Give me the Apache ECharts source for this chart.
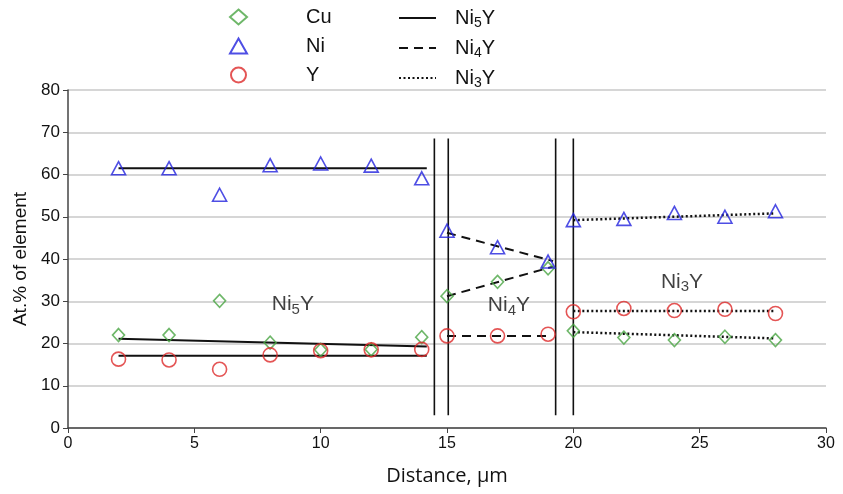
<!DOCTYPE html>
<html><head><meta charset="utf-8">
<script src="https://cdn.jsdelivr.net/npm/echarts@6/dist/echarts.min.js"></script>
<style>html,body{margin:0;padding:0;background:#fff}#c{width:843px;height:494px}</style>
</head><body><div id="c"></div>
<script>
// ---- data ----
const xNi5 = [2, 4, 6, 8, 10, 12, 14];
const xNi4 = [15, 17, 19];
const xNi3 = [20, 22, 24, 26, 28];
const cuVals = [22.0, 22.0, 30.1, 20.2, 18.5, 18.6, 21.5, 31.2, 34.6, 37.8, 23.0, 21.4, 20.8, 21.6, 20.8];
const niVals = [61.5, 61.5, 55.2, 62.2, 62.6, 62.1, 59.1, 46.7, 42.8, 39.4, 49.2, 49.5, 50.9, 50.0, 51.3];
const yVals  = [16.3, 16.1, 13.9, 17.3, 18.3, 18.5, 18.6, 21.8, 21.8, 22.2, 27.5, 28.3, 27.8, 28.1, 27.1];
const xAll = xNi5.concat(xNi4, xNi3);
// fitted lines [x1,y1,x2,y2]
const fitNi5 = [[2, 61.5, 14.2, 61.5], [2, 21.1, 14.2, 19.3], [2, 17.1, 14.2, 17.1]];
const fitNi4 = [[15, 46.2, 19.2, 39.5], [15, 31.2, 19.2, 38.2], [15, 21.8, 19.0, 21.8]];
const fitNi3 = [[20, 49.2, 28, 50.8], [20, 27.7, 28, 27.7], [20, 22.7, 28, 21.2]];
// phase boundaries
const boundaries = [14.5, 15.05, 19.3, 20.0];
const boundaryRange = [3, 68.5];
// phase labels [x, y, sub]
const phaseLabels = [[8.9, 29.2, '5'], [17.45, 29.0, '4'], [24.3, 34.6, '3']];
const xTicks = {min: 0, max: 30, interval: 5};
const yTicks = {min: 0, max: 80, interval: 10};

const pts = vals => xAll.map((x, i) => [x, vals[i]]);
const FONT = "'Liberation Sans', Arial, sans-serif";
const mkRich = (big, small, pad) => ({
  n: {fontSize: big, fontFamily: FONT, color: '#111'},
  s: {fontSize: small, fontFamily: FONT, color: '#111', verticalAlign: 'bottom', padding: [pad, 0, 0, 0]}
});
const series = [];
const mk = (name, symbol, color, size, vals) => ({
  name, type: 'scatter', symbol, symbolSize: size, data: pts(vals), z: 5,
  itemStyle: {color: 'rgba(0,0,0,0)', borderColor: color, borderWidth: 1.6}
});
series.push(mk('Cu', 'diamond', '#4aa544', [12, 13], cuVals));
series.push(mk('Ni', 'triangle', '#2222dd', [14, 13], niVals));
series.push(mk('Y', 'circle', '#dd2a2a', 14, yVals));
const addFit = (name, arr, type) => arr.forEach(s => series.push({
  name, type: 'line', symbol: 'none', data: [[s[0], s[1]], [s[2], s[3]]], z: 3,
  lineStyle: {color: '#111', width: type === 'dotted' ? 2.5 : 2, type: type === 'solid' ? 'solid' : (type === 'dashed' ? [9, 6] : [2, 2.5])},
  itemStyle: {color: '#111'}
}));
addFit('Ni5Y', fitNi5, 'solid');
addFit('Ni4Y', fitNi4, 'dashed');
addFit('Ni3Y', fitNi3, 'dotted');
boundaries.forEach(b => series.push({
  type: 'line', symbol: 'none', data: [[b, boundaryRange[0]], [b, boundaryRange[1]]], z: 2,
  lineStyle: {color: '#111', width: 1.6}
}));
series.push({
  type: 'scatter', symbolSize: 0, data: phaseLabels.map(p => ({value: [p[0], p[1]], sub: p[2]})),
  label: {show: true, position: 'inside', color: '#111', formatter: p => '{n|Ni}{s|' + p.data.sub + '}{n|Y}', rich: mkRich(21, 15, 10)}, z: 6
});

const chart = echarts.init(document.getElementById('c'));
chart.setOption({
  animation: false,
  grid: {left: 68, right: 17, top: 90, bottom: 66},
  legend: [{
    data: ['Cu', 'Ni', 'Y'], orient: 'vertical', left: 224, top: 2, itemWidth: 17, itemHeight: 15, itemGap: 9,
    textStyle: {fontSize: 20, fontFamily: FONT, color: '#111', padding: [0, 0, 0, 54]}
  }, {
    data: ['Ni5Y', 'Ni4Y', 'Ni3Y'], orient: 'vertical', left: 393, top: 3, itemWidth: 37, itemHeight: 14, itemGap: 8,
    itemStyle: {opacity: 0},
    formatter: n => '{n|Ni}{s|' + n.charAt(2) + '}{n|Y}',
    textStyle: {padding: [0, 0, 0, 14], rich: mkRich(20, 14, 10)}
  }],
  xAxis: {
    type: 'value', min: xTicks.min, max: xTicks.max, interval: xTicks.interval,
    name: 'Distance, µm', nameLocation: 'middle', nameGap: 38,
    nameTextStyle: {fontSize: 20, fontFamily: "'Open Sans', sans-serif", color: '#111'},
    axisLine: {lineStyle: {color: '#444', width: 1.5}},
    axisTick: {show: true, length: 5, lineStyle: {color: '#444'}},
    axisLabel: {fontSize: 16, fontFamily: FONT, color: '#111', margin: 8},
    splitLine: {show: false}
  },
  yAxis: {
    type: 'value', min: yTicks.min, max: yTicks.max, interval: yTicks.interval,
    name: 'At.% of element', nameLocation: 'middle', nameGap: 35,
    nameTextStyle: {fontSize: 19, fontFamily: FONT, color: '#111'},
    axisLine: {show: true, lineStyle: {color: '#444', width: 1.5}},
    axisTick: {show: true, length: 5, lineStyle: {color: '#444'}},
    axisLabel: {fontSize: 17, fontFamily: FONT, color: '#111', margin: 8},
    splitLine: {lineStyle: {color: '#c8c8c8', width: 1.5}}
  },
  series
});
</script></body></html>
